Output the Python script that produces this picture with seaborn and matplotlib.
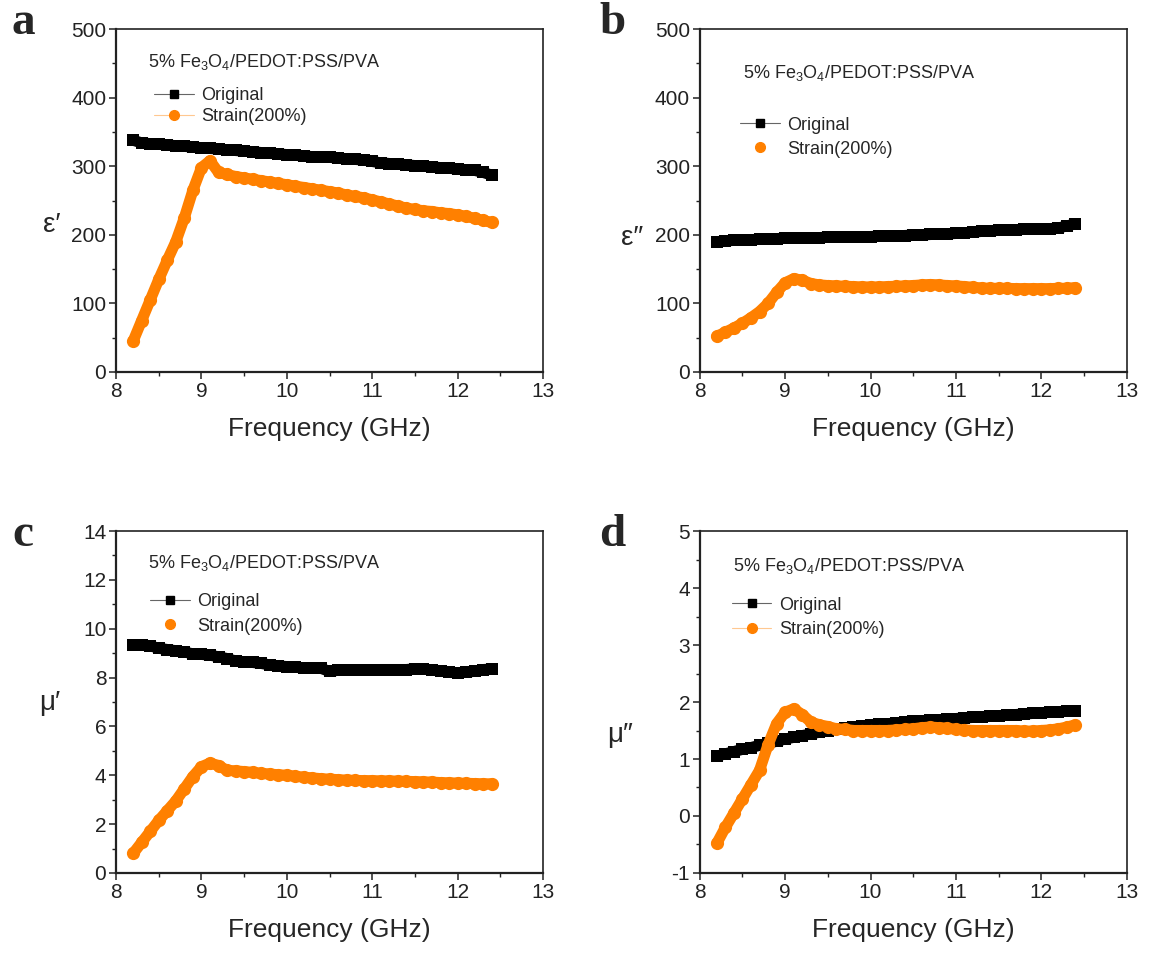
import numpy as np
import matplotlib
matplotlib.use("Agg")
import matplotlib.pyplot as plt
from matplotlib.lines import Line2D
from matplotlib.ticker import MultipleLocator
import seaborn as sns

# frequency points (GHz)
freq = [8.2, 8.3, 8.4, 8.5, 8.6, 8.7, 8.8, 8.9, 9.0, 9.1, 9.2, 9.3, 9.4, 9.5, 9.6,
        9.7, 9.8, 9.9, 10.0, 10.1, 10.2, 10.3, 10.4, 10.5, 10.6, 10.7, 10.8, 10.9,
        11.0, 11.1, 11.2, 11.3, 11.4, 11.5, 11.6, 11.7, 11.8, 11.9, 12.0, 12.1,
        12.2, 12.3, 12.4]

# panel a: eps'
eps1_orig = [338, 334, 333, 332, 331, 330, 329, 328, 327, 326, 325, 324, 323, 322, 321,
             320, 319, 318, 317, 316, 315, 314, 313.5, 313, 312, 311, 310, 309,
             307, 305, 304, 303, 302, 301, 300, 299, 298, 297, 296, 295,
             294, 291, 287]
eps1_strain = [45, 75, 105, 135, 163, 190, 225, 265, 298, 308, 291, 288, 285, 283, 281,
               279, 277, 275, 273, 271, 269, 267, 265, 263, 261, 258, 256, 254,
               251, 248, 245, 242, 239, 237, 235, 234, 232, 231, 229, 227,
               224, 221, 218]

# panel b: eps''
eps2_orig = [190, 191, 192, 192.5, 193, 193.5, 194, 194.5, 195, 195.5, 195.5, 196, 196, 196.5, 196.5,
             197, 197, 197, 197.5, 198, 198, 198.5, 199, 199.5, 200, 200.5, 201, 201.5,
             202, 203, 204, 205, 206, 206.5, 207, 207.5, 208, 208, 208.5, 209,
             210, 213, 216]
eps2_strain = [52, 58, 64, 71, 79, 88, 100, 116, 130, 136, 134, 129, 127, 126, 125.5,
               125, 124.5, 124, 124, 124, 124.5, 125, 125.5, 126, 127, 127.5, 127, 126,
               125.5, 124.5, 123.5, 122.5, 122, 122, 122, 121.5, 121.5, 121.5, 121.5, 121.5,
               122, 122, 123]

# panel c: mu'
mu1_orig = [9.33, 9.35, 9.3, 9.2, 9.15, 9.1, 9.05, 8.97, 8.95, 8.92, 8.85, 8.78, 8.68, 8.65, 8.62,
            8.58, 8.52, 8.48, 8.45, 8.42, 8.4, 8.38, 8.38, 8.25, 8.3, 8.3, 8.32, 8.3,
            8.32, 8.33, 8.33, 8.33, 8.33, 8.36, 8.35, 8.3, 8.28, 8.22, 8.2, 8.22,
            8.26, 8.33, 8.35]
mu1_strain = [0.8, 1.25, 1.7, 2.15, 2.55, 2.95, 3.45, 3.95, 4.35, 4.5, 4.4, 4.2, 4.18, 4.15, 4.12,
              4.08, 4.05, 4.02, 4.0, 3.96, 3.92, 3.89, 3.86, 3.84, 3.82, 3.8, 3.79, 3.78,
              3.78, 3.77, 3.77, 3.76, 3.75, 3.74, 3.73, 3.72, 3.7, 3.69, 3.68, 3.67,
              3.66, 3.65, 3.65]

# panel d: mu''
mu2_orig = [1.05, 1.09, 1.13, 1.17, 1.2, 1.24, 1.28, 1.31, 1.35, 1.38, 1.41, 1.44, 1.47, 1.5, 1.52,
            1.54, 1.56, 1.58, 1.6, 1.61, 1.62, 1.63, 1.65, 1.66, 1.67, 1.68, 1.69, 1.7,
            1.71, 1.72, 1.73, 1.74, 1.75, 1.76, 1.77, 1.78, 1.79, 1.8, 1.81, 1.82,
            1.83, 1.84, 1.85]
mu2_strain = [-0.48, -0.2, 0.05, 0.3, 0.55, 0.8, 1.25, 1.62, 1.82, 1.88, 1.78, 1.65, 1.6, 1.57, 1.53,
              1.52, 1.5, 1.5, 1.5, 1.5, 1.5, 1.51, 1.52, 1.53, 1.55, 1.56, 1.55, 1.54,
              1.52, 1.51, 1.5, 1.5, 1.5, 1.5, 1.5, 1.5, 1.49, 1.49, 1.5, 1.51,
              1.53, 1.56, 1.6]

title_text = r"5% Fe$_3$O$_4$/PEDOT:PSS/PVA"
labels = ["Original", "Strain(200%)"]
ORANGE = "#FF8000"

sns.set_style("ticks")
plt.rcParams["font.family"] = ["Liberation Sans", "DejaVu Sans"]
plt.rcParams["mathtext.default"] = "regular"
plt.rcParams["axes.unicode_minus"] = False

fig = plt.figure(figsize=(11.49, 9.55), dpi=100)

panels = [
    # letter, rect, orig, strain, ylim, major, minor, ylabel, ylabel pos, title pos, legend anchor, labelspacing, orange line
    ("a", [0.101, 0.6105, 0.3716, 0.359], eps1_orig, eps1_strain, (0, 500), 100, 50,
     "ε′", (0.045, 0.764), (0.075, 0.904), (0.09, 0.83), 0.2, True),
    ("b", [0.609, 0.6105, 0.3716, 0.359], eps2_orig, eps2_strain, (0, 500), 100, 50,
     "ε″", (0.55, 0.751), (0.102, 0.872), (0.095, 0.745), 0.4, False),
    ("c", [0.101, 0.0859, 0.3716, 0.358], mu1_orig, mu1_strain, (0, 14), 2, 1,
     "μ′", (0.0435, 0.264), (0.075, 0.907), (0.08, 0.818), 0.4, False),
    ("d", [0.609, 0.0859, 0.3716, 0.358], mu2_orig, mu2_strain, (-1, 5), 1, 0.5,
     "μ″", (0.54, 0.23), (0.077, 0.899), (0.075, 0.808), 0.4, True),
]

for letter, rect, orig, strain, ylim, major, minor, ylab, ylpos, tpos, lpos, lsp, oline in panels:
    ax = fig.add_axes(rect)
    sns.lineplot(x=freq, y=orig, ax=ax, color="black", linewidth=8, marker="s",
                 markersize=8.5, markeredgewidth=0, estimator=None, sort=False)
    sns.lineplot(x=freq, y=strain, ax=ax, color=ORANGE, linewidth=8, marker="o",
                 markersize=9.5, markeredgewidth=0, estimator=None, sort=False)

    ax.set_xlim(8, 13)
    ax.set_ylim(*ylim)
    ax.xaxis.set_major_locator(MultipleLocator(1))
    ax.xaxis.set_minor_locator(MultipleLocator(0.5))
    ax.yaxis.set_major_locator(MultipleLocator(major))
    ax.yaxis.set_minor_locator(MultipleLocator(minor))
    ax.tick_params(which="major", direction="out", length=5, width=1.1,
                   labelsize=15, pad=2, colors="#222222")
    ax.tick_params(which="minor", direction="out", length=3, width=1.0, colors="#222222")
    for side, sp in ax.spines.items():
        sp.set_visible(True)
        sp.set_color("#222222")
        sp.set_linewidth(1.6 if side in ("left", "bottom") else 1.2)

    ax.set_xlabel("Frequency (GHz)", fontsize=19, labelpad=12)
    ax.set_ylabel("")
    fig.text(ylpos[0], ylpos[1], ylab, fontsize=20, ha="center", va="center")

    ax.text(tpos[0], tpos[1], title_text, transform=ax.transAxes, fontsize=13,
            ha="left", va="center")

    h_orig = Line2D([], [], color="#666666", linewidth=0.8, marker="s",
                    markersize=5.5, markerfacecolor="black", markeredgecolor="black")
    h_strain = Line2D([], [], color="#FFC890" if oline else "none", linewidth=0.8, marker="o",
                      markersize=7, markerfacecolor=ORANGE, markeredgecolor=ORANGE)
    ax.legend([h_orig, h_strain], labels, loc="upper left", bbox_to_anchor=lpos,
              frameon=False, fontsize=13, handlelength=2.2, handletextpad=0.4,
              labelspacing=lsp, borderpad=0, borderaxespad=0)

    letter_x = 0.02 if letter in ("a", "c") else 0.533
    letter_y = 0.976 if letter in ("a", "b") else 0.44
    fig.text(letter_x, letter_y, letter, fontsize=34, fontweight="bold",
             family="Liberation Serif", ha="center", va="center")

fig.savefig("out.png", dpi=100)
